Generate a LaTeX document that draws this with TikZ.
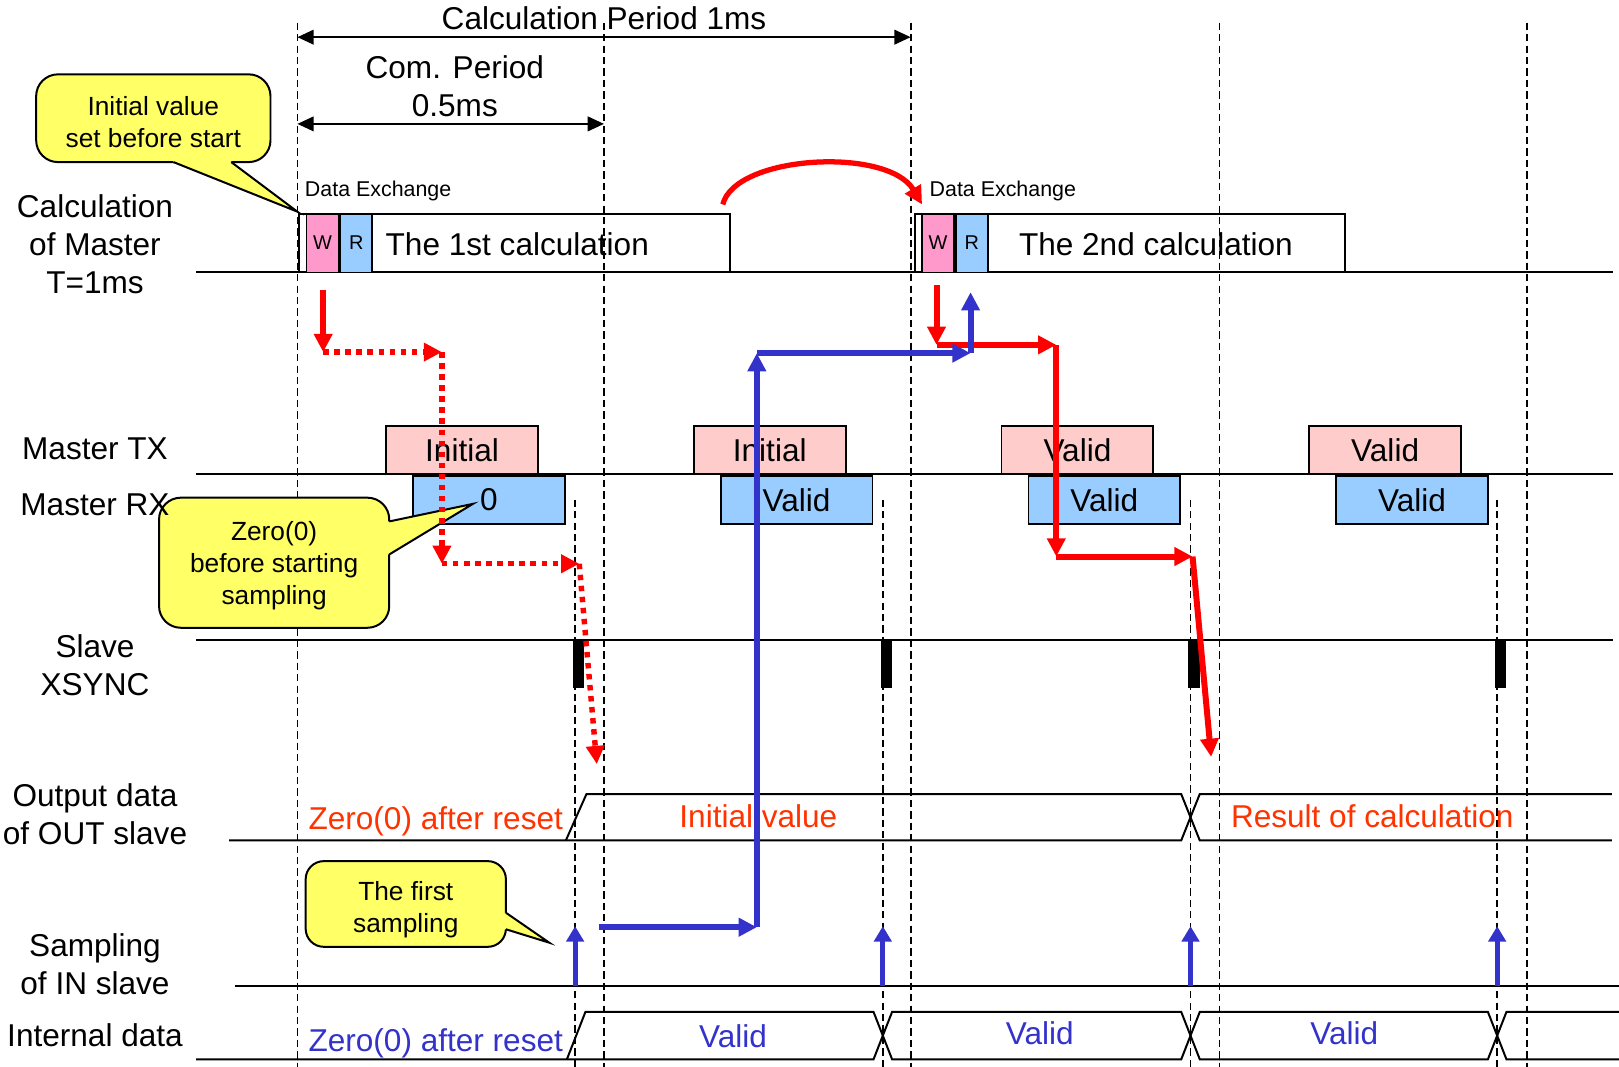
\documentclass[tikz,border=0pt]{standalone}
\usepackage{fontspec}
\setmainfont{Liberation Sans}
\usetikzlibrary{arrows.meta, positioning}
\definecolor{txpink}{HTML}{FFCCCC}
\definecolor{rxblue}{HTML}{99CCFF}
\definecolor{wpink}{HTML}{FF99CC}
\definecolor{notey}{HTML}{FFFF66}
\definecolor{flowred}{HTML}{FF0000}
\definecolor{flowblue}{HTML}{3333CC}
\definecolor{outred}{HTML}{FF3300}

\begin{document}
\begin{tikzpicture}[
  x=0.02cm, y=-0.02cm,
  every node/.style={inner sep=0pt},
  big/.style={font=\fontsize{17.4}{21}\selectfont},
  lbl/.style={big, align=center},
  smalltxt/.style={font=\fontsize{11.8}{14}\selectfont, anchor=base west},
  note/.style={rectangle, rounded corners=12pt, draw=black, line width=1.1pt, fill=notey},
  notetxt/.style={font=\fontsize{14.5}{17.6}\selectfont, align=center},
  txbox/.style={rectangle, draw=black, line width=1pt, fill=txpink, big,
                minimum width=2.94cm, minimum height=0.94cm},
  rxbox/.style={txbox, fill=rxblue},
  calcbox/.style={rectangle, draw=black, line width=1pt, anchor=north west,
                  minimum width=8.34cm, minimum height=1.14cm},
  wrbox/.style={rectangle, draw=black, line width=1pt, anchor=north west,
                minimum width=0.62cm, minimum height=1.14cm,
                font=\fontsize{11}{13}\selectfont},
  sig/.style={line width=1.1pt},
  dashline/.style={line width=0.95pt, dash pattern=on 4pt off 2.3pt},
  dimarr/.style={{Triangle[length=9pt, width=8pt]}-{Triangle[length=9pt, width=8pt]}, line width=1.3pt},
  redarr/.style={-{Triangle[length=10pt, width=9.8pt]}, line width=3.3pt, flowred},
  reddot/.style={redarr, line width=3pt, dash pattern=on 3pt off 3.1pt},
  bluearr/.style={redarr, flowblue},
  curvarr/.style={redarr, line width=2.9pt},
  samparr/.style={-{Triangle[length=8.5pt, width=9.5pt]}, line width=2.7pt, flowblue}
]
  \fill[white] (0,0) rectangle (1568,1033);
  \useasboundingbox (0,0) rectangle (1568,1033);

  % signal lines
  \draw[sig] (190,263) -- (1562,263);
  \draw[sig] (190,459) -- (1562,459);
  \draw[sig] (190,620) -- (1562,620);
  \draw[sig] (228,955) -- (1568,955);

  % master calculation
  \node[calcbox] (calc1) at (289,206) {};
  \node[wrbox, fill=wpink] (w1) at (296,206) {W};
  \node[wrbox, fill=rxblue] (r1) at (w1.north east) {R};
  \node[big, anchor=base] (calc1txt) at (501,247) {The 1st calculation};
  \node[calcbox] (calc2) at (885,206) {};
  \node[wrbox, fill=wpink] (w2) at (892,206) {W};
  \node[wrbox, fill=rxblue] (r2) at (w2.north east) {R};
  \node[big, anchor=base] (calc2txt) at (1119.5,247) {The 2nd calculation};
  \node[smalltxt] (dx1) at (295,190) {Data Exchange};
  \node[smalltxt] (dx2) at (900,190) {Data Exchange};

  % master TX / RX frames
  \node[txbox] (tx1) at (447.5,435.8) {Initial};
  \node[txbox] (tx2) at (745.5,435.8) {Initial};
  \node[txbox] (tx3) at (1043.5,435.8) {Valid};
  \node[txbox] (tx4) at (1341.5,435.8) {Valid};
  \node[rxbox] (rx1) at (473.5,484.3) {0};
  \node[rxbox] (rx2) at (771.5,484.3) {Valid};
  \node[rxbox] (rx3) at (1069.5,484.3) {Valid};
  \node[rxbox] (rx4) at (1367.5,484.3) {Valid};

  % period marks
  \foreach \x in {288,585,882,1181,1479}
    \draw[dashline] (\x,22) -- (\x,1033);
  \foreach \x in {557,855,1153,1450}
    \draw[dashline] (\x,484) -- (\x,1033);
  \foreach \x in {557,855,1153,1450}
    \fill (\x-2,620) rectangle (\x+9,666);
  \foreach \x in {557,855,1153,1450}
    \draw[samparr] (\x,955) -- (\x,897);

  % output data bus
  \draw[sig] (222,814) -- (1144,814) -- (1162,769) -- (1561,769);
  \draw[sig] (548,814) -- (568,769) -- (1144,769) -- (1162,814) -- (1561,814);
  % internal data bus
  \draw[sig] (190,1026) -- (846,1026) -- (864,980) -- (1144,980) -- (1162,1026)
             -- (1441,1026) -- (1459,980) -- (1568,980);
  \draw[sig] (549,1026) -- (567,980) -- (846,980) -- (864,1026) -- (1144,1026)
             -- (1162,980) -- (1441,980) -- (1459,1026) -- (1568,1026);

  % periods
  \coordinate (p0) at (288,36);
  \coordinate (p2) at (882,36);
  \coordinate (h0) at (288,120);
  \coordinate (h1) at (585,120);
  \draw[dimarr] (p0) -- (p2);
  \draw[dimarr] (h0) -- (h1);
  \node[big, anchor=base] (calcper) at (585,29) {Calculation Period 1ms};
  \node[lbl] (comper) at (440.5,83.5) {Com. Period\\0.5ms};

  % notes
  \node[note, minimum width=4.54cm, minimum height=1.70cm] (initnote) at (148.5,114.5) {};
  \coordinate (inittip) at (288,205);
  \fill[notey] (168,157) -- (inittip) -- (224,157) -- (224,152) -- (168,152) -- cycle;
  \draw[line width=1.1pt] (168,157) -- (inittip) -- (224,157);
  \node[notetxt] (inittxt) at (148.5,118.5) {Initial value\\set before start};

  \node[note, minimum width=4.46cm, minimum height=2.52cm] (zeronote) at (265.5,545) {};
  \coordinate (zerotip) at (458,488);
  \fill[notey] (377,505) -- (zerotip) -- (377,537) -- (372,537) -- (372,505) -- cycle;
  \draw[line width=1.1pt] (377,505) -- (zerotip) -- (377,537);
  \node[notetxt] (zerotxt) at (265.5,547.5) {Zero(0)\\before starting\\sampling};

  \node[note, rounded corners=10pt, minimum width=3.88cm, minimum height=1.66cm] (firstnote)
       at (393,875.5) {};
  \coordinate (firsttip) at (532,913);
  \fill[notey] (490,884) -- (firsttip) -- (490,900) -- (485,900) -- (485,884) -- cycle;
  \draw[line width=1.1pt] (490,884) -- (firsttip) -- (490,900);
  \node[notetxt] (firsttxt) at (393,881) {The first\\sampling};

  % row labels
  \node[lbl] (lcalc) at (92,236.5) {Calculation\\of Master\\T=1ms};
  \node[big, anchor=base] (ltx) at (92,444.6) {Master TX};
  \node[big, anchor=base] (lrx) at (92,498.8) {Master RX};
  \node[lbl] (lxs) at (92,644.5) {Slave\\XSYNC};
  \node[lbl] (lout) at (92,788.5) {Output data\\of OUT slave};
  \node[lbl] (lin) at (92,934) {Sampling\\of IN slave};
  \node[big, anchor=base] (lint) at (92,1014) {Internal data};

  % bus values
  \node[big, outred, anchor=base] (out0) at (422,803) {Zero(0) after reset};
  \node[big, outred, anchor=base] (out1) at (734.5,801) {Initial value};
  \node[big, outred, anchor=base] (out2) at (1329,801) {Result of calculation};
  \node[big, flowblue, anchor=base] (in0) at (422,1018.6) {Zero(0) after reset};
  \node[big, flowblue, anchor=base] (in1) at (710,1014.7) {Valid};
  \node[big, flowblue, anchor=base] (in2) at (1007,1012) {Valid};
  \node[big, flowblue, anchor=base] (in3) at (1302,1012) {Valid};

  % initial value path
  \coordinate (wa1) at (313,281);
  \coordinate (wa2) at (313,341);
  \coordinate (wa3) at (428,341);
  \coordinate (wa4) at (428,546);
  \coordinate (wa5) at (561,546);
  \coordinate (wa6) at (578,740);
  \draw[redarr] (wa1) -- (wa2);
  \draw[reddot] (wa2) -- (wa3);
  \draw[reddot] (wa3) -- (wa4);
  \draw[reddot] (wa4) -- (wa5);
  \draw[reddot] (wa5) -- (wa6);

  % result path
  \coordinate (wb1) at (907,276);
  \coordinate (wb2) at (907,334);
  \coordinate (wb3) at (1023,334);
  \coordinate (wb4) at (1023,539);
  \coordinate (wb5) at (1155,539);
  \coordinate (wb6) at (1173,733);
  \draw[redarr] (wb1) -- (wb2);
  \draw[redarr] (wb2) -- (wb3);
  \draw[redarr] (wb3) -- (wb4);
  \draw[redarr] (wb4) -- (wb5);
  \draw[redarr] (wb5) -- (wb6);

  % sampled data path
  \coordinate (rd1) at (580,898);
  \coordinate (rd2) at (733,898);
  \coordinate (rd3) at (733,342);
  \coordinate (rd4) at (940,342);
  \coordinate (rd5) at (940,283);
  \draw[bluearr] (rd1) -- (rd2);
  \draw[bluearr] (rd2) -- (rd3);
  \draw[bluearr] (rd3) -- (rd4);
  \draw[bluearr] (rd4) -- (rd5);

  % next cycle
  \coordinate (hop1) at (700,198);
  \coordinate (hop2) at (893,198);
  \draw[curvarr] (hop1) .. controls (712,150) and (860,142) .. (hop2);
\end{tikzpicture}
\end{document}
